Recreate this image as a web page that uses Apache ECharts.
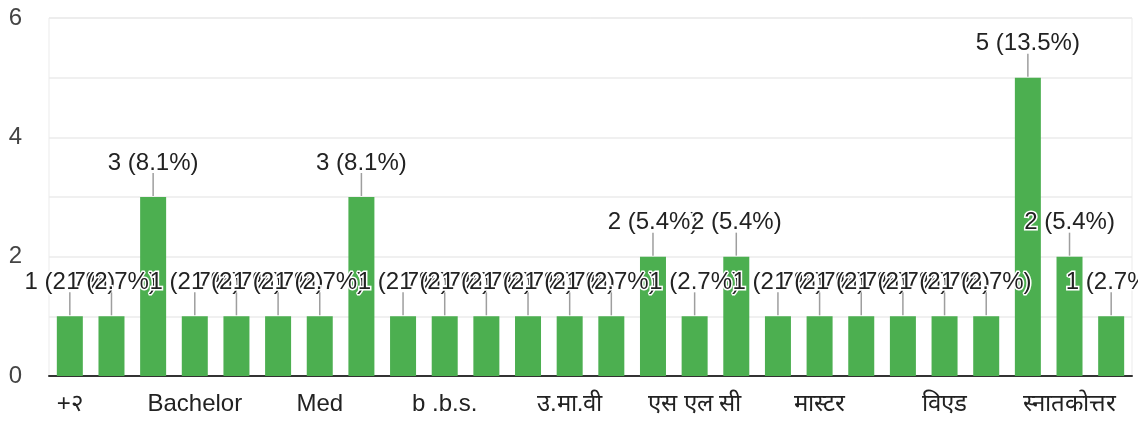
<!DOCTYPE html>
<html>
<head>
<meta charset="utf-8">
<script src="https://cdn.jsdelivr.net/npm/echarts@6/dist/echarts.min.js"></script>
<style>
  html, body { margin: 0; padding: 0; background: #fff; }
  #chart { width: 1138px; height: 422px; }
</style>
</head>
<body>
<div id="chart"></div>
<script>
// answers, sorted the way the form lists them
var categories = [
  '+२', 'B.Ed', 'BBS', 'Bachelor', 'Bachelor degree', 'M.Ed', 'Med', 'Plus two', 'SLC',
  'b .b.s.', 'bachelor', 'master', 'उ.मा.वी', 'एम ए', 'एम एड', 'एस एल सी', 'प्लस टु',
  'बि एड', 'मास्टर', 'मास्टर्स', 'वि.एड', 'विएड', 'साक्षर', 'स्नातक', 'स्नातकोत्तर', 'स्नातकोत्तर तह'
];
var counts = [1, 1, 3, 1, 1, 1, 1, 3, 1, 1, 1, 1, 1, 1, 2, 1, 2, 1, 1, 1, 1, 1, 1, 5, 2, 1];
var yTicks = [0, 2, 4, 6];

var total = counts.reduce(function (a, b) { return a + b; }, 0);
var FONT = 'Arial, "Liberation Sans", sans-serif';

var chart = echarts.init(document.getElementById('chart'));

function renderLabel(params, api) {
  var idx = api.value(0);
  var v = api.value(1);
  var p = api.coord([idx, v]);
  var pct = (v / total * 100).toFixed(1);
  return {
    type: 'group',
    children: [
      {
        type: 'line',
        shape: { x1: p[0], y1: p[1] - 1, x2: p[0], y2: p[1] - 24 },
        style: { stroke: '#9e9e9e', lineWidth: 1.5 }
      },
      {
        type: 'text',
        style: {
          x: p[0], y: p[1] - 34,
          text: v + ' (' + pct + '%)',
          font: '24px ' + FONT,
          fill: '#222',
          stroke: '#fff',
          lineWidth: 3,
          align: 'center',
          verticalAlign: 'middle'
        }
      }
    ]
  };
}

var option = {
  animation: false,
  grid: {
    left: 49, right: 6, top: 18, bottom: 46,
    show: true, borderColor: '#ebebeb', borderWidth: 1
  },
  xAxis: {
    type: 'category',
    data: categories,
    axisLine: { lineStyle: { color: '#333', width: 2 } },
    axisTick: { show: false },
    axisLabel: { interval: 2, margin: 16, fontSize: 24, color: '#222', fontFamily: FONT }
  },
  yAxis: {
    type: 'value',
    min: 0, max: 6, interval: 1,
    axisLine: { show: false },
    axisTick: { show: false },
    splitLine: { lineStyle: { color: '#ebebeb', width: 1.5 } },
    axisLabel: {
      margin: 27, fontSize: 24, color: '#444', fontFamily: FONT,
      formatter: function (v) { return yTicks.indexOf(v) >= 0 ? String(v) : ''; }
    }
  },
  series: [
    {
      type: 'bar',
      data: counts,
      barWidth: 26,
      itemStyle: { color: '#4caf50' }
    },
    {
      type: 'custom',
      data: counts.map(function (v, i) { return [i, v]; }),
      encode: { x: 0, y: 1 },
      renderItem: renderLabel,
      z: 5
    }
  ]
};

chart.setOption(option);
</script>
</body>
</html>
